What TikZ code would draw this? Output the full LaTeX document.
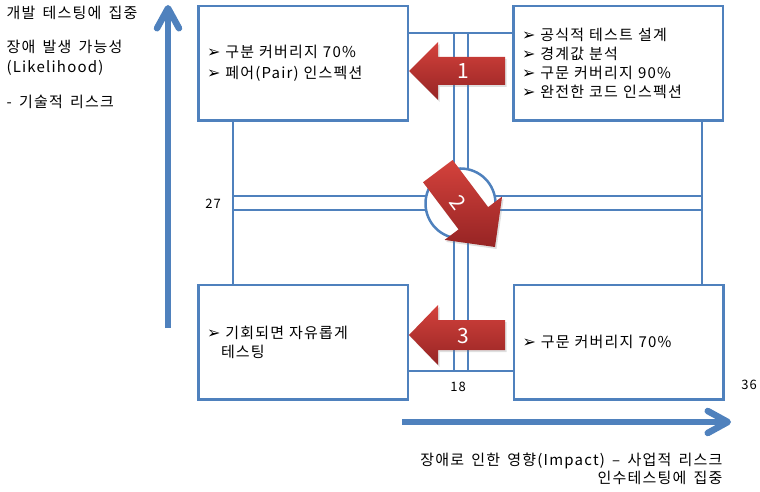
\documentclass[tikz,border=0pt]{standalone}
\usepackage{fontspec}
\setmainfont[LetterSpace=8,WordSpace=1.6]{Noto Sans CJK KR}
\newfontfamily\dejavu{DejaVu Sans}
\usetikzlibrary{arrows.meta,shadows}
\definecolor{lineblue}{RGB}{79,129,189}
\definecolor{redtop}{RGB}{212,66,60}
\definecolor{redbot}{RGB}{150,36,36}
\newcommand{\bul}{{\dejavu\fontsize{16}{16}\selectfont ➢}\ }
\begin{document}
\begin{tikzpicture}[x=1pt,y=-1pt,
  box/.style={draw=lineblue,line width=2.5pt,fill=white,minimum width=209.5pt,minimum height=114.5pt,text width=192pt,inner xsep=8.5pt,align=left},
  grid/.style={draw=lineblue,line width=2.5pt},
  axis/.style={draw=lineblue,line width=6.5pt,-{Straight Barb[length=20pt,width=22pt,line cap=round,line join=round]}},
  redarrow/.style={top color=redtop,bottom color=redbot,draw=none,drop shadow={shadow xshift=1.5pt,shadow yshift=-2pt,opacity=0.25}},
  num/.style={text=white,font=\fontsize{21}{21}\selectfont},
  lbl/.style={font=\fontsize{13}{14}\selectfont}]
\useasboundingbox (0,0) rectangle (760,492);
% axes
\draw[axis] (168,328) -- (168,5);
\draw[axis] (402,422) -- (731,422);
\node[lbl,anchor=north west,align=left,font=\fontsize{15}{20}\selectfont] (likely) at (3,3)
  {개발 테스팅에 집중\\[14pt] 장애 발생 가능성\\ (Likelihood)\\[15pt] - 기술적 리스크};
\node[lbl,anchor=north east,align=right,font=\fontsize{15}{18}\selectfont] (impact) at (726,449)
  {장애로 인한 영향(Impact) – 사업적 리스크\\ 인수테스팅에 집중};
% quadrants
\node[box,font=\fontsize{15}{21}\selectfont] (tl) at (303,63.5) {\bul 구분 커버리지 70\%\\ \bul 페어(Pair) 인스펙션};
\node[box,font=\fontsize{15}{19}\selectfont] (tr) at (618,63.5) {\bul 공식적 테스트 설계\\ \bul 경계값 분석\\ \bul 구문 커버리지 90\%\\ \bul 완전한 코드 인스펙션};
\node[box,font=\fontsize{15}{19}\selectfont] (bl) at (303,342) {\bul 기회되면 자유롭게\\ \hspace*{14pt}테스팅};
\node[box,font=\fontsize{15}{19}\selectfont] (br) at (618.5,342) {\bul 구문 커버리지 70\%};
% grid lines
\draw[grid] (tl.east |- 0,33) -- (tr.west |- 0,33);
\draw[grid] (bl.east |- 0,371) -- (br.west |- 0,371);
\draw[grid] (233,0 |- tl.south) -- (233,0 |- bl.north);
\draw[grid] (702,0 |- tr.south) -- (702,0 |- br.north);
\draw[grid] (454,33) -- (454,371) (468,33) -- (468,371);
\draw[grid] (233,196) -- (702,196) (233,210) -- (702,210);
\node[grid,circle,fill=white,minimum size=70pt,inner sep=0pt] (hub) at (460.5,203.5) {};
\node[lbl] (n27) at (213,204) {27};
\node[lbl] (n18) at (458,387) {18};
\node[lbl] (n36) at (749,385) {36};
% red arrows
\shade[redarrow] (409,71) -- (438,42) -- (438,57) -- (505,57) -- (505,85) -- (438,85) -- (438,100) -- cycle;
\node[num] (one) at (463,71) {1};
\shade[redarrow] (409,335) -- (438,305) -- (438,320) -- (505,320) -- (505,350) -- (438,350) -- (438,365) -- cycle;
\node[num] (three) at (463,336) {3};
\begin{scope}[shift={(495,247)},rotate=-53]
\shade[redarrow] (0,0) -- (-36,-36) -- (-36,-18.5) -- (-95,-18.5) -- (-95,18.5) -- (-36,18.5) -- (-36,36) -- cycle;
\end{scope}
\node[num,rotate=-53] (two) at (458,203) {2};
\end{tikzpicture}
\end{document}
